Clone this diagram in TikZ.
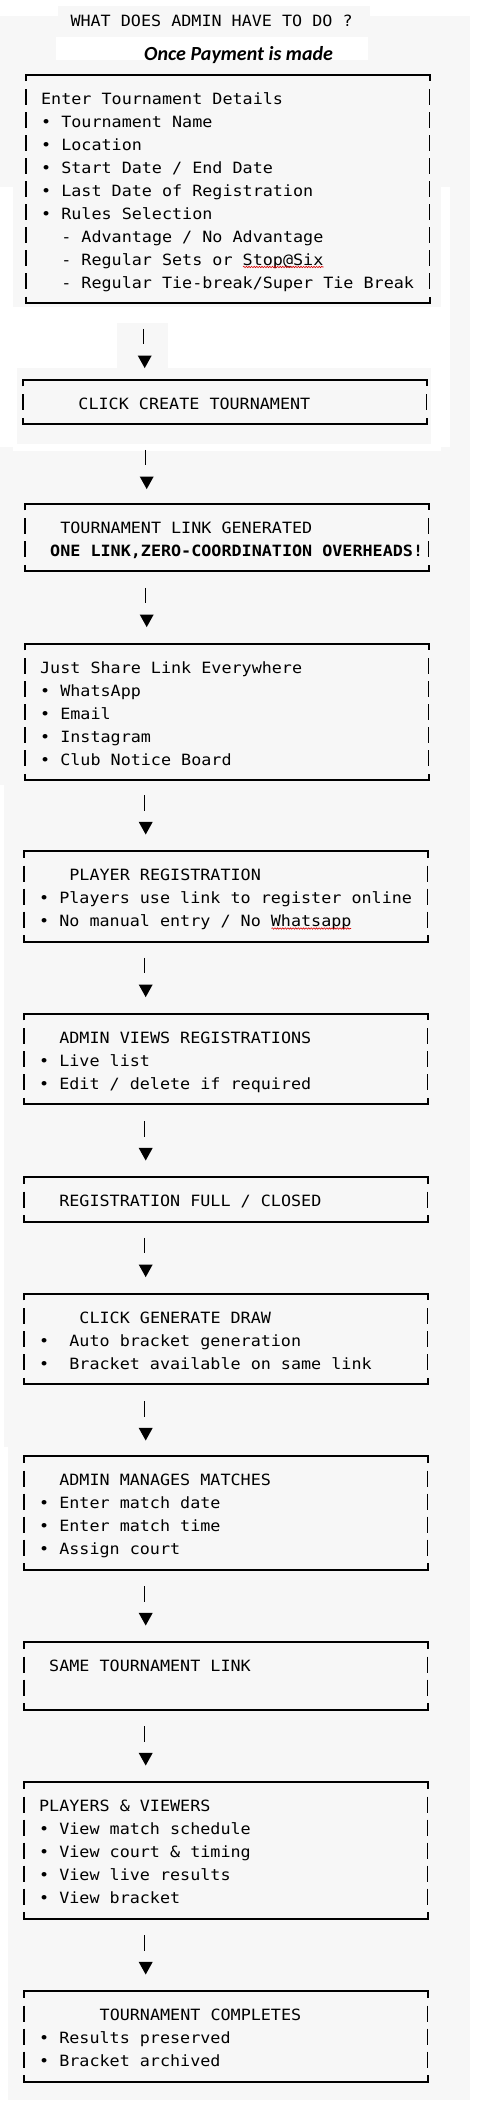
\documentclass[tikz,border=0pt]{standalone}
\usepackage{fontspec}
\setmonofont[FakeStretch=1.08]{DejaVu Sans Mono}
\newfontfamily\calfont{Carlito}
\usetikzlibrary{decorations.pathmorphing}
\definecolor{bgg}{HTML}{F7F7F7}
\frenchspacing
\newcommand\tbox[4]{% name, left x, first baseline, rows
  \pgfmathsetmacro\tT{#3-29.5}%
  \pgfmathsetmacro\tB{#3+23*(#4-1)+15}%
  \pgfmathsetmacro\tR{#2+40*10.09}%
  \pgfmathsetmacro\tH{\tB-\tT}%
  \node[inner sep=0pt, outer sep=0pt, minimum width=403.6pt, minimum height=\tH pt, anchor=north west] (#1) at (#2,\tT) {};
  \draw[hline] ([yshift=-6.5pt]#1.north west) -- (#1.north west) -- (#1.north east) -- ([yshift=-6.5pt]#1.north east);
  \draw[hline] ([yshift=6.5pt]#1.south west) -- (#1.south west) -- (#1.south east) -- ([yshift=6.5pt]#1.south east);
  \foreach \i in {1,...,#4} {%
    \pgfmathsetmacro\bb{#3+23*(\i-1)}%
    \draw[vline] (#2,\bb-15) -- (#2,\bb+1);
    \draw[vline] (\tR,\bb-15) -- (\tR,\bb+1);
  }%
}
\newcommand\tl[6]{% name, left x, first baseline, row, column, text
  \node[txt] (#1) at ({#2+(#5-0.5)*10.09},{#3+23*(#4-1)}) {#6};}
\newcommand\tarrow[2]{% next box, vertical tweak
  \draw[vline] ([xshift=120.3pt, yshift=56pt+#2]#1.north west) -- ++(0,15.3);
  \fill[black] ([xshift=114.7pt, yshift=29.3pt+#2]#1.north west) -- ++(14,0) -- ++(-7,12.6) -- cycle;}
\begin{document}
\begin{tikzpicture}[x=1pt,y=-1pt,
  txt/.style={inner sep=0pt, outer sep=0pt, anchor=base west, font=\ttfamily\fontsize{15.5}{20}\selectfont, text=black},
  hline/.style={line width=2pt, black, line cap=butt, line join=miter},
  vline/.style={line width=1.6pt, black, line cap=butt},
  squig/.style={red!85!black, line width=0.6pt, decorate, decoration={snake, amplitude=0.7pt, segment length=2.6pt}}]
\useasboundingbox (0,0) rectangle (486,2104);
% background patches
\fill[white] (0,0) rectangle (486,2104);
\fill[bgg] (0,16) rectangle (470,2100);
\fill[bgg] (58,6) rectangle (370,16);
\fill[white] (56,37) rectangle (368,60);
\fill[white] (0,187) rectangle (13,447);
\fill[white] (441,187) rectangle (450,447);
\fill[white] (13,307) rectangle (441,451);
\fill[bgg] (117,323) rectangle (168,368);
\fill[bgg] (17,368) rectangle (431,444);
\fill[white] (0,785) rectangle (4,1447);
\fill[white] (0,1447) rectangle (8,2104);
% header
\node[txt] (title) at (70.5,26) {WHAT DOES ADMIN HAVE TO DO ?};
\node[inner sep=0pt, anchor=base west, font=\calfont\bfseries\itshape\fontsize{20}{24}\selectfont] (sub) at (144,60) {Once Payment is made};
% box 1
\tbox{b1}{26}{104}{9}
\tl{b1a}{26}{104}{1}{2}{Enter Tournament Details}
\tl{b1b}{26}{104}{2}{2}{• Tournament Name}
\tl{b1c}{26}{104}{3}{2}{• Location}
\tl{b1d}{26}{104}{4}{2}{• Start Date / End Date}
\tl{b1e}{26}{104}{5}{2}{• Last Date of Registration}
\tl{b1f}{26}{104}{6}{2}{• Rules Selection}
\tl{b1g}{26}{104}{7}{4}{- Advantage / No Advantage}
\tl{b1h}{26}{104}{8}{4}{- Regular Sets or Stop@Six}
\tl{b1i}{26}{104}{9}{4}{- Regular Tie-break/Super Tie Break}
\draw[squig] (243,267) -- (323.5,267);
% box 2
\tbox{b2}{23}{409.3}{1}
\tl{b2a}{23}{409.3}{1}{6}{CLICK CREATE TOURNAMENT}
\tarrow{b2}{-5pt}
% box 3
\tbox{b3}{25}{533.3}{2}
\tl{b3a}{25}{533.3}{1}{4}{TOURNAMENT LINK GENERATED}
\tl{b3b}{25}{533.3}{2}{3}{\bfseries ONE LINK,ZERO-COORDINATION OVERHEADS!}
\tarrow{b3}{-2pt}
% box 4
\tbox{b4}{25}{673.3}{5}
\tl{b4a}{25}{673.3}{1}{2}{Just Share Link Everywhere}
\tl{b4b}{25}{673.3}{2}{2}{• WhatsApp}
\tl{b4c}{25}{673.3}{3}{2}{• Email}
\tl{b4d}{25}{673.3}{4}{2}{• Instagram}
\tl{b4e}{25}{673.3}{5}{2}{• Club Notice Board}
\tarrow{b4}{0pt}
% box 5
\tbox{b5}{24}{880.7}{3}
\tl{b5a}{24}{880.7}{1}{5}{PLAYER REGISTRATION}
\tl{b5b}{24}{880.7}{2}{2}{• Players use link to register online}
\tl{b5c}{24}{880.7}{3}{2}{• No manual entry / No Whatsapp}
\draw[squig] (271.5,928.5) -- (351,928.5);
\tarrow{b5}{0pt}
% box 6
\tbox{b6}{24}{1043.3}{3}
\tl{b6a}{24}{1043.3}{1}{4}{ADMIN VIEWS REGISTRATIONS}
\tl{b6b}{24}{1043.3}{2}{2}{• Live list}
\tl{b6c}{24}{1043.3}{3}{2}{• Edit / delete if required}
\tarrow{b6}{0pt}
% box 7
\tbox{b7}{24}{1206.7}{1}
\tl{b7a}{24}{1206.7}{1}{4}{REGISTRATION FULL / CLOSED}
\tarrow{b7}{0pt}
% box 8
\tbox{b8}{24}{1323.3}{3}
\tl{b8a}{24}{1323.3}{1}{6}{CLICK GENERATE DRAW}
\tl{b8b}{24}{1323.3}{2}{2}{•\ \ Auto bracket generation}
\tl{b8c}{24}{1323.3}{3}{2}{•\ \ Bracket available on same link}
\tarrow{b8}{0pt}
% box 9
\tbox{b9}{24}{1485.7}{4}
\tl{b9a}{24}{1485.7}{1}{4}{ADMIN MANAGES MATCHES}
\tl{b9b}{24}{1485.7}{2}{2}{• Enter match date}
\tl{b9c}{24}{1485.7}{3}{2}{• Enter match time}
\tl{b9d}{24}{1485.7}{4}{2}{• Assign court}
\tarrow{b9}{-1pt}
% box 10
\tbox{b10}{24}{1671.7}{2}
\tl{b10a}{24}{1671.7}{1}{3}{SAME TOURNAMENT LINK}
\tarrow{b10}{0pt}
% box 11
\tbox{b11}{24}{1811.7}{5}
\tl{b11a}{24}{1811.7}{1}{2}{PLAYERS \& VIEWERS}
\tl{b11b}{24}{1811.7}{2}{2}{• View match schedule}
\tl{b11c}{24}{1811.7}{3}{2}{• View court \& timing}
\tl{b11d}{24}{1811.7}{4}{2}{• View live results}
\tl{b11e}{24}{1811.7}{5}{2}{• View bracket}
\tarrow{b11}{0pt}
% box 12
\tbox{b12}{24}{2020.7}{3}
\tl{b12a}{24}{2020.7}{1}{8}{TOURNAMENT COMPLETES}
\tl{b12b}{24}{2020.7}{2}{2}{• Results preserved}
\tl{b12c}{24}{2020.7}{3}{2}{• Bracket archived}
\tarrow{b12}{0pt}
\end{tikzpicture}
\end{document}
